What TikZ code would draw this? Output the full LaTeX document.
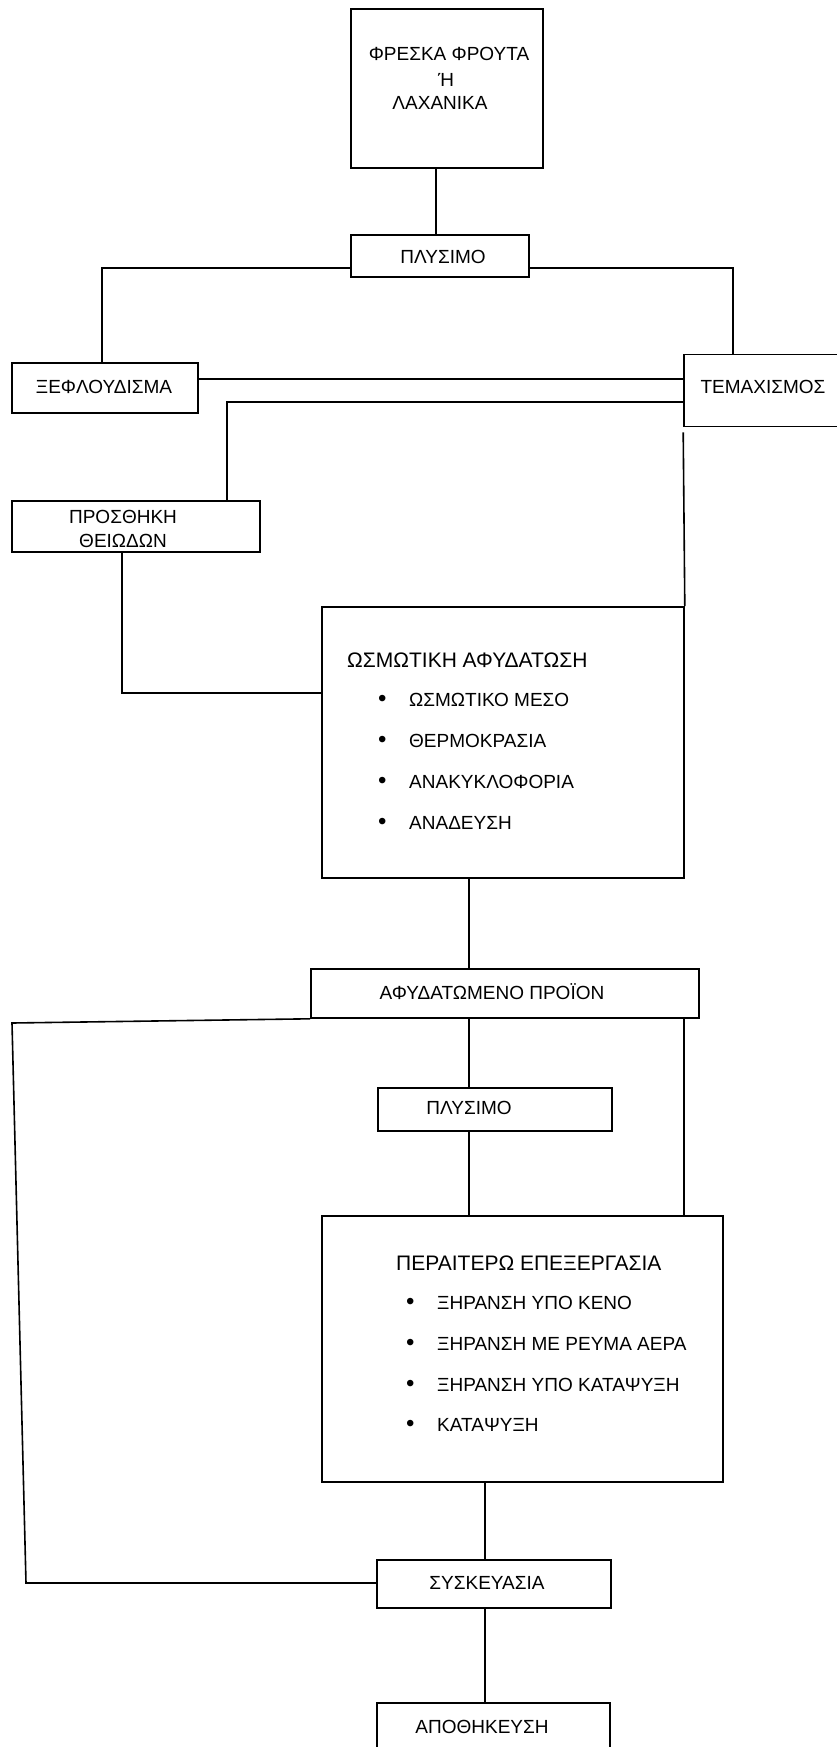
\documentclass[tikz,border=0pt]{standalone}
\usepackage{fontspec}
\setmainfont{Liberation Sans}
\newcommand{\blt}{\makebox[31pt][l]{\raisebox{0.5pt}{\fontsize{24}{24}\selectfont •}}}
\begin{document}
\begin{tikzpicture}[x=1pt,y=-1pt,
  box/.style={draw,line width=1.6pt,rectangle,inner sep=0pt},
  wire/.style={line width=1.6pt},
  lbl/.style={inner sep=0pt,font=\fontsize{19}{23}\selectfont},
  ttl/.style={inner sep=0pt,anchor=west,font=\fontsize{21}{25}\selectfont},
  item/.style={inner sep=0pt,anchor=west,font=\fontsize{19}{23}\selectfont}]
\useasboundingbox[fill=white] (0,0) rectangle (836,1747);
% boxes
\node[box,minimum width=192pt,minimum height=159pt] (top) at (447,88.5) {};
\node[box,minimum width=178pt,minimum height=42pt] (ply1) at (440,256) {};
\node[box,minimum width=186pt,minimum height=50pt] (xef) at (105,388) {};
\node[box,minimum width=180pt,minimum height=72pt] (tem) at (774,390.5) {};
\node[box,minimum width=248pt,minimum height=51pt] (pros) at (136,526.5) {};
\node[box,minimum width=362pt,minimum height=271pt] (osm) at (503,742.5) {};
\node[box,minimum width=388pt,minimum height=49pt] (afy) at (505,993.5) {};
\node[box,minimum width=234pt,minimum height=43pt] (ply2) at (495,1109.5) {};
\node[box,minimum width=401pt,minimum height=266pt] (per) at (522.5,1349) {};
\node[box,minimum width=234pt,minimum height=48pt] (sysk) at (494,1584) {};
\node[box,minimum width=233pt,minimum height=80pt] (apo) at (493.5,1743) {};
% texts
\node[lbl] (t1a) at (449,54) {ΦΡΕΣΚΑ ΦΡΟΥΤΑ};
\node[lbl] (t1b) at (446,80) {Ή};
\node[lbl] (t1c) at (440,103) {ΛΑΧΑΝΙΚΑ};
\node[lbl] (t2) at (443,257) {ΠΛΥΣΙΜΟ};
\node[lbl] (t3) at (104,387) {ΞΕΦΛΟΥΔΙΣΜΑ};
\node[lbl] (t4) at (763,387) {ΤΕΜΑΧΙΣΜΟΣ};
\node[lbl,align=center,font=\fontsize{19}{24}\selectfont] (t5) at (123,529) {ΠΡΟΣΘΗΚΗ\\ΘΕΙΩΔΩΝ};
\node[ttl] (t6) at (347,660) {ΩΣΜΩΤΙΚΗ ΑΦΥΔΑΤΩΣΗ};
\node[item] (t6a) at (378,700) {\blt ΩΣΜΩΤΙΚΟ ΜΕΣΟ};
\node[item] (t6b) at (378,741) {\blt ΘΕΡΜΟΚΡΑΣΙΑ};
\node[item] (t6c) at (378,782) {\blt ΑΝΑΚΥΚΛΟΦΟΡΙΑ};
\node[item] (t6d) at (378,823) {\blt ΑΝΑΔΕΥΣΗ};
\node[lbl] (t7) at (492,992) {ΑΦΥΔΑΤΩΜΕΝΟ ΠΡΟΪΟΝ};
\node[lbl] (t8) at (469,1108) {ΠΛΥΣΙΜΟ};
\node[ttl] (t9) at (396,1263) {ΠΕΡΑΙΤΕΡΩ ΕΠΕΞΕΡΓΑΣΙΑ};
\node[item] (t9a) at (406,1303) {\blt ΞΗΡΑΝΣΗ ΥΠΟ ΚΕΝΟ};
\node[item] (t9b) at (406,1344) {\blt ΞΗΡΑΝΣΗ ΜΕ ΡΕΥΜΑ ΑΕΡΑ};
\node[item] (t9c) at (406,1385) {\blt ΞΗΡΑΝΣΗ ΥΠΟ ΚΑΤΑΨΥΞΗ};
\node[item] (t9d) at (406,1425) {\blt ΚΑΤΑΨΥΞΗ};
\node[lbl] (t10) at (487,1583) {ΣΥΣΚΕΥΑΣΙΑ};
\node[lbl] (t11) at (482,1727) {ΑΠΟΘΗΚΕΥΣΗ};
% helper coordinates
\coordinate (cA) at (436,0);
\coordinate (cL) at (102,0);
\coordinate (cR) at (733,0);
\coordinate (cP) at (227,0);
\coordinate (cQ) at (122,0);
\coordinate (cM) at (469,0);
\coordinate (cT) at (684,0);
\coordinate (cS) at (485,0);
\coordinate (r1) at (0,268);
\coordinate (r2) at (0,379);
\coordinate (r3) at (0,402);
\coordinate (r4) at (0,693);
\coordinate (k1) at (12,1023);
\coordinate (k2) at (26,1583);
% connectors
\draw[wire] (top.south -| cA) -- (ply1.north -| cA);
\draw[wire] (ply1.west |- r1) -| (xef.north -| cL);
\draw[wire] (ply1.east |- r1) -| (tem.north -| cR);
\draw[wire] (xef.east |- r2) -- (tem.west |- r2);
\draw[wire] (tem.west |- r3) -| (pros.north -| cP);
\draw[wire] (pros.south -| cQ) |- (osm.west |- r4);
\draw[wire] ([yshift=-5pt]tem.south west) -- (osm.north east);
\draw[wire] (osm.south -| cM) -- (afy.north -| cM);
\draw[wire] (afy.south west) -- (k1) -- (k2) -- (sysk.west |- k2);
\draw[wire] (afy.south -| cM) -- (ply2.north -| cM);
\draw[wire] (afy.south -| cT) -- (per.north -| cT);
\draw[wire] (ply2.south -| cM) -- (per.north -| cM);
\draw[wire] (per.south -| cS) -- (sysk.north -| cS);
\draw[wire] (sysk.south -| cS) -- (apo.north -| cS);
\end{tikzpicture}
\end{document}
